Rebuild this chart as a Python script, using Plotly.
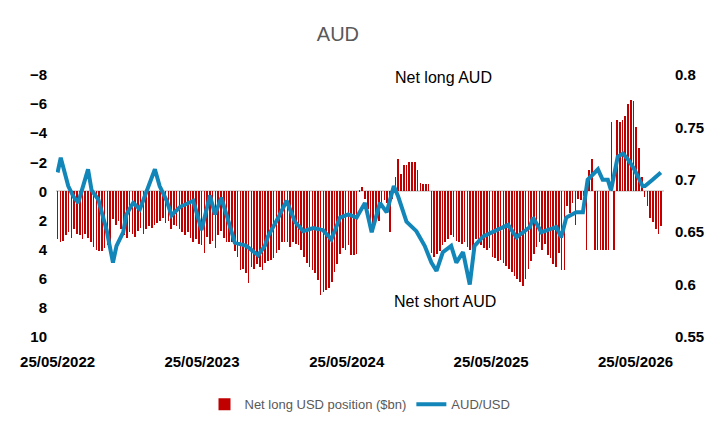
import pandas as pd
import plotly.graph_objects as go

start = pd.Timestamp("2022-05-25")

# net long USD position ($bn), weekly from 25/05/2022 (positive = short AUD, drawn downward)
usd_pos = [
    3.3, 3.5, 3.4, 3.0, 2.8, 3.2, 2.6, 2.9, 3.0, 3.3, 2.9, 3.2, 3.5, 3.8, 4.0, 4.1, 4.1,
    3.9, 3.7, 3.9, 1.9, 2.3, 2.0,
    2.6, 3.0, 3.2, 2.8, 2.9, 3.1, 2.7, 2.5, 2.9, 2.6, 2.4, 2.5, 2.3, 2.2, 2.0,
    1.8, 2.2, 2.0, 2.6, 2.3, 2.4, 2.6, 2.8, 3.0, 2.8, 3.2, 3.5, 3.3, 3.6, 3.7, 4.2,
    3.1, 3.6, 3.4, 3.9, 3.0, 2.7, 3.2, 3.5, 3.5, 3.5, 4.1, 4.5,
    5.4, 5.3, 5.6, 6.3, 5.2, 5.3, 5.0, 5.2, 5.4, 4.9, 4.8, 4.7,
    4.6, 4.2, 4.0, 3.5, 3.5, 3.5, 3.8, 3.5, 3.6, 3.7,
    4.0, 4.5, 4.9, 5.2, 5.4, 5.6, 6.1, 7.1, 6.9, 6.8, 6.6, 6.2, 5.5, 5.0, 4.3,
    3.9, 4.0, 3.7, 4.4, 4.4, 4.3, -0.1, -0.3,
    0.5, 1.2, 2.0, 2.8, 1.5, 2.0, 1.0, 0.6, 0.8, 2.8, 0.5,
    -1.0, -2.2, -1.2, -1.8, -1.8, -2.0, -2.0, -2.0, -1.5, -0.6, -0.5, -0.5, -0.5,
    4.2, 4.5, 4.3, 4.1, 3.7, 3.5, 3.3, 3.0, 3.1, 3.4, 3.5, 3.6, 3.5, 3.8, 4.0, 4.3,
    3.3, 3.5, 3.7, 3.9, 4.0, 3.9, 4.5, 4.6, 4.8, 4.7, 4.9, 5.1, 5.3, 5.5, 5.8,
    6.0, 6.2, 6.5, 6.0, 5.3, 4.8,
    4.3, 3.8, 3.5, 4.0, 3.6, 4.4, 4.6, 5.0, 5.2, 4.2, 5.4, 5.4,
    1.0, 1.5, 0.8, 2.3, 0.5, 0.6, 0.3,
    4.0, -1.5, -2.2, 4.0, 4.0, 4.0, 4.0, 4.0, 4.0, -4.8, 4.0,
    -4.9, -4.8, -4.9, -5.2, -6.0, -6.3, -6.2, -4.4, -3.0, -1.0,
    0.4, 1.0, 1.8, 2.1, 2.6, 2.9, 2.4,
]
bar_dates = pd.date_range(start, periods=len(usd_pos), freq="7D")

# AUD/USD, read at weeks since start
aud_weeks = [0, 1.2, 3.9, 5.7, 7.5, 9.3, 11, 12.3, 14.7, 17.7, 20, 21.3, 23.7, 24.9, 27.3,
             29.7, 33.3, 35.1, 36.9, 39.4, 41.2, 44.2, 49, 52, 55, 56.8, 59.2, 61.6, 64,
             68.2, 72.4, 74.8, 76, 79.7, 82.7, 85.7, 88.7, 92.3, 95.9, 98.9, 102, 105, 108,
             111, 113.4, 116.4, 118.8, 121.4, 123, 126, 129.6, 132.6, 135, 136.8, 139.2,
             142.2, 144, 146.4, 148.8, 150.6, 153.7, 158.5, 162.7, 165.7, 170.5, 171.7,
             174.7, 180.1, 181.9, 183.7, 187.3, 189.7, 191.5, 195.1, 196.9, 198.7, 199.9,
             202.3, 204.1, 205.9, 208.3, 211.3, 212.2, 214.9, 217.9]
aud_usd = [0.707, 0.721, 0.694, 0.684, 0.678, 0.694, 0.71, 0.69, 0.681, 0.652, 0.621, 0.637,
           0.65, 0.667, 0.678, 0.672, 0.696, 0.71, 0.694, 0.68, 0.666, 0.674, 0.68, 0.652,
           0.685, 0.667, 0.683, 0.66, 0.64, 0.637, 0.628, 0.637, 0.646, 0.664, 0.68, 0.66,
           0.651, 0.654, 0.652, 0.643, 0.664, 0.667, 0.664, 0.678, 0.65, 0.678, 0.669, 0.694,
           0.684, 0.66, 0.651, 0.637, 0.621, 0.613, 0.631, 0.637, 0.621, 0.631, 0.6, 0.637,
           0.646, 0.652, 0.657, 0.645, 0.655, 0.664, 0.65, 0.655, 0.645, 0.664, 0.669, 0.669,
           0.70, 0.71, 0.70, 0.70, 0.69, 0.722, 0.725, 0.72, 0.71, 0.694, 0.694, 0.70, 0.707]
aud_dates = [start + pd.Timedelta(days=round(w * 7)) for w in aud_weeks]

tick_dates = [pd.Timestamp(f"{y}-05-25") for y in range(2022, 2027)]
tick_text = [d.strftime("%d/%m/%Y") for d in tick_dates]

fig = go.Figure()
fig.add_trace(go.Bar(x=bar_dates, y=usd_pos, name="Net long USD position ($bn)",
                     marker_color="#C00000", marker_line_width=0, width=1.6 * 86400000))
fig.add_trace(go.Scatter(x=aud_dates, y=aud_usd, name="AUD/USD", yaxis="y2", mode="lines",
                         line=dict(color="#1286B8", width=4)))

fig.update_layout(
    width=722, height=433,
    margin=dict(l=48, r=66, t=67, b=104),
    plot_bgcolor="white", paper_bgcolor="white",
    font=dict(family="Liberation Sans", color="black"),
    title=dict(text="AUD", x=0.457, y=0.955, xanchor="center",
               font=dict(size=20, color="#595959")),
    bargap=0,
    xaxis=dict(type="date", range=[start - pd.Timedelta(days=4), start + pd.Timedelta(days=219 * 7)],
               tickvals=tick_dates, ticktext=tick_text, showgrid=False, ticks="",
               tickfont=dict(size=15, weight="bold"), zeroline=False, ticklabelstandoff=14),
    yaxis=dict(range=[10, -8], dtick=2, showgrid=False, zeroline=True, zerolinecolor="#D9D9D9",
               zerolinewidth=2, tickfont=dict(size=15, weight="bold"), ticklabelstandoff=8),
    yaxis2=dict(range=[0.55, 0.8], dtick=0.05, overlaying="y", side="right", showgrid=False,
                zeroline=False, tickfont=dict(size=15, weight="bold"), ticklabelstandoff=10),
    legend=dict(orientation="h", x=0.5, xanchor="center", y=-0.2, yanchor="top",
                font=dict(size=13, color="#595959")),
    annotations=[
        dict(text="Net long AUD", x=0.72, y=1.03, xref="paper", yref="paper",
             showarrow=False, font=dict(size=16)),
        dict(text="Net short AUD", x=0.64, y=0.095, xref="paper", yref="paper",
             showarrow=False, font=dict(size=16)),
    ],
)

fig.write_html("out.html")
